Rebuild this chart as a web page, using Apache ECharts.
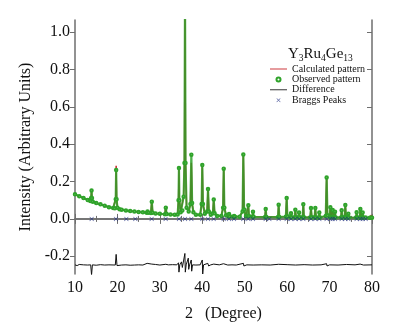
<!DOCTYPE html>
<html>
<head>
<meta charset="utf-8">
<script src="https://cdn.jsdelivr.net/npm/echarts@6/dist/echarts.min.js"></script>
<style>html,body{margin:0;padding:0;background:#fff}#c{width:409px;height:327px}</style>
</head>
<body>
<div id="c"></div>
<script>
// 2θ positions of profile points
const twoTheta = [
  10.0, 11.0, 12.0, 13.0, 13.6, 13.8, 13.9, 14.0, 14.2, 15.0, 16.0, 17.0, 18.0, 19.0,
  19.4, 19.6, 19.7, 19.8, 20.0, 20.5, 21.0, 22.0, 23.0, 24.0, 25.0, 26.0, 26.9, 27.1, 27.3,
  27.9, 28.1, 28.3, 29.0, 30.0, 31.2, 31.4, 31.6, 32.5, 33.5, 34.2, 34.4, 34.5, 34.6, 34.9,
  35.3, 35.6, 35.8, 35.93, 36.05, 36.3, 36.8, 37.2, 37.42, 37.6, 37.9, 38.5, 39.5, 39.85,
  40.0, 40.15, 40.6, 41.15, 41.35, 41.55, 42.0, 42.5, 42.7, 42.9, 43.5, 44.5, 44.9, 45.05,
  45.2, 45.6, 46.1, 46.3, 46.5, 47.3, 47.5, 47.7, 48.8, 49.5, 49.67, 49.85, 50.3, 50.7,
  50.85, 51.0, 51.8, 51.95, 52.1, 54.8, 54.95, 55.1, 57.85, 58.0, 58.15, 59.7, 59.89, 60.05,
  60.75, 60.91, 61.05, 61.78, 61.93, 62.08, 62.65, 62.8, 62.95, 63.65, 63.81, 63.95, 65.45,
  65.62, 65.8, 66.48, 66.64, 66.8, 67.42, 67.58, 67.74, 69.1, 69.31, 69.5, 70.05, 70.18,
  70.32, 70.6, 70.73, 70.88, 71.15, 71.28, 71.42, 72.7, 72.85, 73.0, 73.55, 73.71, 73.86,
  74.28, 74.42, 74.56, 76.25, 76.38, 76.52, 77.1, 77.25, 77.4, 77.65, 77.8, 77.95, 78.5,
  79.5, 79.85, 80.0
];
// Calculated intensity at each point
const calcI = [
  0.130, 0.121, 0.111, 0.101, 0.096, 0.110, 0.150, 0.110, 0.092, 0.085, 0.077, 0.070, 0.063, 0.058,
  0.057, 0.110, 0.285, 0.110, 0.060, 0.052, 0.049, 0.045, 0.042, 0.039, 0.037, 0.035, 0.033, 0.046, 0.033,
  0.031, 0.094, 0.031, 0.029, 0.027, 0.025, 0.066, 0.025, 0.024, 0.022, 0.024, 0.100, 0.270, 0.100, 0.035,
  0.045, 0.120, 0.300, 1.200, 0.300, 0.060, 0.040, 0.080, 0.300, 0.080, 0.035, 0.022, 0.022, 0.080,
  0.290, 0.080, 0.028, 0.040, 0.165, 0.040, 0.022, 0.030, 0.107, 0.030, 0.016, 0.016, 0.060, 0.275,
  0.060, 0.020, 0.014, 0.026, 0.014, 0.012, 0.016, 0.012, 0.012, 0.040, 0.345, 0.050, 0.014, 0.016,
  0.075, 0.016, 0.012, 0.040, 0.011, 0.010, 0.055, 0.010, 0.010, 0.078, 0.010, 0.012, 0.115, 0.014,
  0.009, 0.030, 0.009, 0.009, 0.050, 0.009, 0.009, 0.035, 0.009, 0.009, 0.080, 0.009, 0.008,
  0.060, 0.009, 0.009, 0.060, 0.008, 0.008, 0.035, 0.008, 0.015, 0.225, 0.020, 0.010, 0.065,
  0.010, 0.010, 0.050, 0.010, 0.009, 0.040, 0.008, 0.008, 0.050, 0.009, 0.009, 0.075, 0.009,
  0.008, 0.030, 0.008, 0.007, 0.040, 0.007, 0.008, 0.055, 0.008, 0.008, 0.035, 0.007, 0.007,
  0.006, 0.020, 0.006
];
// Observed intensity at each point
const obsI = [
  0.132, 0.121, 0.112, 0.101, 0.096, 0.112, 0.152, 0.112, 0.092, 0.085, 0.078, 0.070, 0.063, 0.058,
  0.057, 0.105, 0.262, 0.105, 0.060, 0.052, 0.049, 0.045, 0.042, 0.040, 0.037, 0.035, 0.033, 0.040, 0.033,
  0.031, 0.092, 0.033, 0.029, 0.027, 0.025, 0.060, 0.026, 0.024, 0.022, 0.024, 0.100, 0.272, 0.100, 0.035,
  0.045, 0.118, 0.300, 1.200, 0.300, 0.060, 0.040, 0.080, 0.343, 0.085, 0.035, 0.022, 0.022, 0.080,
  0.288, 0.080, 0.028, 0.040, 0.160, 0.040, 0.022, 0.030, 0.104, 0.030, 0.016, 0.016, 0.060, 0.268,
  0.060, 0.020, 0.014, 0.026, 0.014, 0.012, 0.016, 0.012, 0.012, 0.040, 0.345, 0.050, 0.014, 0.016,
  0.073, 0.016, 0.012, 0.038, 0.011, 0.010, 0.053, 0.010, 0.010, 0.076, 0.010, 0.012, 0.112, 0.014,
  0.009, 0.030, 0.009, 0.009, 0.049, 0.009, 0.009, 0.034, 0.009, 0.009, 0.078, 0.009, 0.008,
  0.058, 0.009, 0.009, 0.058, 0.008, 0.008, 0.034, 0.008, 0.015, 0.222, 0.020, 0.010, 0.062,
  0.010, 0.010, 0.048, 0.010, 0.009, 0.038, 0.008, 0.008, 0.046, 0.009, 0.009, 0.074, 0.009,
  0.008, 0.028, 0.008, 0.007, 0.035, 0.007, 0.008, 0.053, 0.008, 0.008, 0.034, 0.007, 0.007,
  0.006, 0.008, 0.006
];
// Difference curve (offset below zero)
const diffX = [10,10.5,11,12,13,13.7,13.9,14.1,15,16,17,18,19.5,19.7,19.9,21,22,23,24,25,26,27,27.3,28.1,28.5,29,30,31.4,32,33,34,34.4,34.5,34.7,35.1,35.3,35.9,36.0,36.2,36.7,36.8,37.0,37.4,37.5,37.7,38.5,39.5,40.0,40.1,40.3,41.3,41.5,42,42.7,43,44,45,45.2,46,47,48,49.7,49.8,50.5,52,54,56,58,60,62,64,66,68,69.3,69.4,70,72,74,76,77.2,78,80];
const diffY = [-0.246,-0.250,-0.244,-0.246,-0.247,-0.246,-0.300,-0.246,-0.248,-0.245,-0.247,-0.246,-0.247,-0.190,-0.250,-0.247,-0.246,-0.248,-0.247,-0.246,-0.247,-0.238,-0.245,-0.242,-0.246,-0.244,-0.247,-0.243,-0.246,-0.245,-0.246,-0.235,-0.285,-0.246,-0.230,-0.260,-0.185,-0.285,-0.246,-0.210,-0.270,-0.246,-0.220,-0.280,-0.246,-0.247,-0.246,-0.220,-0.295,-0.246,-0.238,-0.252,-0.246,-0.242,-0.247,-0.246,-0.240,-0.250,-0.247,-0.246,-0.247,-0.238,-0.252,-0.246,-0.247,-0.246,-0.247,-0.243,-0.245,-0.247,-0.245,-0.247,-0.246,-0.240,-0.252,-0.246,-0.247,-0.244,-0.246,-0.242,-0.247,-0.246];
// Bragg reflection positions
const braggPos = [13.93,19.66,22.1,24.22,28.07,31.37,34.51,35.93,37.42,40.01,41.35,42.68,45.04,46.3,47.47,49.67,50.85,51.95,54.94,55.8,58.0,59.89,60.91,61.93,62.8,63.81,65.62,66.64,67.58,69.31,70.18,70.73,71.28,72.85,73.71,74.42,76.38,77.25,77.8,78.5];
const yTicks = [-0.2, 0.0, 0.2, 0.4, 0.6, 0.8, 1.0];
const seriesNames = ['Calculated pattern', 'Observed pattern', 'Difference', 'Braggs Peaks'];

const serif = 'Liberation Serif, Times New Roman, serif';
const axisGray = '#6e6e6e';
const lineIcon = 'path://M0,0L20,0L20,1L0,1Z';
const chart = echarts.init(document.getElementById('c'), null, {renderer: 'canvas'});
const xMin = 10, xMax = 80, yMin = -0.295, yMax = 1.065;
const toPairs = (xs, ys) => xs.map((x, i) => [x, ys[i]]);

chart.setOption({
  animation: false,
  backgroundColor: '#fff',
  title: {
    text: '{n|Y}{s|3}{n|Ru}{s|4}{n|Ge}{s|13}',
    left: 288, top: 45, padding: 0,
    textStyle: {
      fontWeight: 'normal',
      rich: {
        n: {fontSize: 15, fontFamily: serif, color: '#111', fontWeight: 'normal'},
        s: {fontSize: 9.5, fontFamily: serif, color: '#111', fontWeight: 'normal', padding: [8, 0, 0, 0]}
      }
    }
  },
  legend: {
    orient: 'vertical', left: 270, top: 64, padding: 0,
    itemWidth: 17, itemHeight: 4, itemGap: 0.4,
    symbolKeepAspect: true,
    textStyle: {fontSize: 10, fontFamily: serif, color: '#111', lineHeight: 10},
    data: [
      {name: seriesNames[0], icon: lineIcon},
      {name: seriesNames[1], icon: 'emptyCircle'},
      {name: seriesNames[2], icon: lineIcon},
      {name: seriesNames[3]}
    ]
  },
  grid: {left: 75, right: 37, top: 20, bottom: 53},
  xAxis: [{
    type: 'value', min: xMin, max: xMax, interval: 10,
    name: '2   (Degree)', nameLocation: 'middle', nameGap: 32,
    nameTextStyle: {fontSize: 16, fontFamily: serif, color: '#111'},
    axisLine: {show: true, lineStyle: {color: axisGray, width: 1.5}},
    axisTick: {show: true, inside: true, length: 5, lineStyle: {color: axisGray, width: 1}},
    minorTick: {show: true, splitNumber: 2, length: 3, lineStyle: {color: axisGray, width: 1}},
    axisLabel: {fontSize: 16, fontFamily: serif, color: '#111', margin: 6},
    splitLine: {show: false}
  }, {
    type: 'value', position: 'top', min: xMin, max: xMax, interval: 10,
    axisLine: {show: true, lineStyle: {color: axisGray, width: 1.5}},
    axisTick: {show: true, inside: true, length: 5, lineStyle: {color: axisGray, width: 1}},
    minorTick: {show: true, splitNumber: 2, length: 3, lineStyle: {color: axisGray, width: 1}},
    axisLabel: {show: false}, splitLine: {show: false}
  }],
  yAxis: [{
    type: 'value', min: yMin, max: yMax,
    name: 'Intensity (Arbitrary Units)', nameLocation: 'middle', nameGap: 28,
    nameTextStyle: {fontSize: 16, fontFamily: serif, color: '#111'},
    axisLine: {show: true, lineStyle: {color: axisGray, width: 1.5}},
    axisTick: {show: true, inside: false, length: 5, customValues: yTicks, lineStyle: {color: axisGray, width: 1}},
    axisLabel: {customValues: yTicks, fontSize: 16, fontFamily: serif, color: '#111', margin: 5,
      formatter: v => Number(v).toFixed(1)},
    splitLine: {show: false}
  }, {
    type: 'value', position: 'right', min: yMin, max: yMax,
    axisLine: {show: true, lineStyle: {color: axisGray, width: 1.5}},
    axisTick: {show: true, inside: true, length: 5, customValues: yTicks, lineStyle: {color: axisGray, width: 1}},
    axisLabel: {show: false, customValues: yTicks},
    splitLine: {show: false}
  }],
  series: [{
    name: seriesNames[0], type: 'line', data: toPairs(twoTheta, calcI),
    symbol: 'none', clip: true, z: 2,
    lineStyle: {color: '#c4161c', width: 1.4}, itemStyle: {color: '#c4161c'}
  }, {
    name: seriesNames[1], type: 'line', data: toPairs(twoTheta, obsI),
    symbol: 'emptyCircle', symbolSize: 2.5, showSymbol: true, showAllSymbol: true, clip: true, z: 3,
    lineStyle: {color: '#2fa32a', width: 2.2, opacity: 0.85}, itemStyle: {color: '#2fa32a', borderWidth: 1}
  }, {
    name: seriesNames[2], type: 'line', data: toPairs(diffX, diffY),
    symbol: 'none', clip: true, z: 2,
    lineStyle: {color: '#111', width: 1}, itemStyle: {color: '#111'}
  }, {
    name: seriesNames[3], type: 'scatter', data: braggPos.map(x => [x, 0]),
    symbol: 'path://M0,1L1,0L5,4L9,0L10,1L6,5L10,9L9,10L5,6L1,10L0,9L4,5Z',
    symbolSize: 4.5, z: 4,
    itemStyle: {color: '#1b2a80'}
  }]
});
</script>
</body>
</html>
